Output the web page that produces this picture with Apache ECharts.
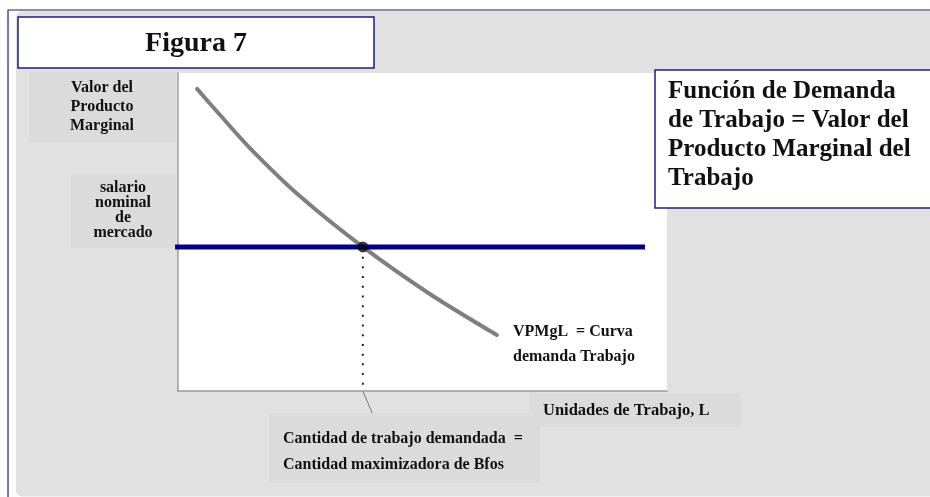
<!DOCTYPE html>
<html>
<head>
<meta charset="utf-8">
<script src="https://cdn.jsdelivr.net/npm/echarts@6/dist/echarts.min.js"></script>
<style>html,body{margin:0;padding:0;background:#fff;}#c{width:930px;height:497px;}</style>
</head>
<body>
<div id="c"></div>
<script>
// Data (units: L = labour units, w = value / wage, arbitrary scale 0-10)
const curveL = [0.39, 0.86, 1.47, 2.49, 3.78, 5.15, 6.52];
const curveW = [9.50, 8.68, 7.64, 6.13, 4.53, 3.05, 1.76];
const wage = 4.53;
const wageLineL = [-0.06, 9.55];
const equilibriumL = 3.78;
const leaderEnd = [3.97, -0.69];

const title = 'Figura 7';
const yLabel = 'Valor del\nProducto\nMarginal';
const wageLabel = 'salario\nnominal\nde\nmercado';
const boxLabel = 'Función de Demanda\nde Trabajo = Valor del\nProducto Marginal del\nTrabajo';
const curveLabel = 'VPMgL  = Curva\ndemanda Trabajo';
const xLabel = 'Unidades de Trabajo, L';
const eqLabel = 'Cantidad de trabajo demandada  =\nCantidad maximizadora de Bfos';

const FF = '"Liberation Serif", "DejaVu Serif", serif';
const GRAY = '#e1e1e1';
const DARK = '#dbdbdb';
const NAVY = '#1c1c80';

const chart = echarts.init(document.getElementById('c'), null, {renderer: 'canvas'});
const curveData = curveL.map((l, i) => [l, curveW[i]]);

function txt(text, x, y, size, align, lh, z) {
  return {
    type: 'text', z: z || 20, silent: true,
    style: {
      text: text, x: x, y: y, fill: '#111',
      font: 'bold ' + size + 'px ' + FF,
      textAlign: align, textVerticalAlign: 'middle', lineHeight: lh
    }
  };
}

chart.setOption({
  animation: false,
  backgroundColor: '#fff',
  grid: {left: 178, top: 73, width: 489, height: 318, show: true, backgroundColor: '#fff', borderWidth: 0},
  xAxis: {
    type: 'value', min: 0, max: 10,
    axisLine: {show: true, lineStyle: {color: '#9c9c9c', width: 1.5}},
    axisTick: {show: false}, axisLabel: {show: false}, splitLine: {show: false}
  },
  yAxis: {
    type: 'value', min: 0, max: 10,
    axisLine: {show: true, lineStyle: {color: '#9c9c9c', width: 1.5}},
    axisTick: {show: false}, axisLabel: {show: false}, splitLine: {show: false}
  },
  series: [
    {
      type: 'line', data: curveData, smooth: 0.3, symbol: 'none', z: 3,
      lineStyle: {color: '#7f7f7f', width: 4, cap: 'round'}
    },
    {
      type: 'line', clip: false, symbol: 'none', z: 4,
      data: [[wageLineL[0], wage], [wageLineL[1], wage]],
      lineStyle: {color: '#000080', width: 5}
    },
    {
      type: 'line', symbol: 'none', z: 2,
      data: [[equilibriumL, wage], [equilibriumL, 0]],
      lineStyle: {color: '#222', width: 2, type: [2, 7.7]}
    },
    {
      type: 'line', clip: false, symbol: 'none', z: 2,
      data: [[equilibriumL, 0], leaderEnd],
      lineStyle: {color: '#777', width: 1}
    },
    {
      type: 'scatter', data: [[equilibriumL, wage]], symbolSize: 11, z: 6,
      itemStyle: {color: '#080818'}
    }
  ],
  graphic: [
    {type: 'rect', z: -20, silent: true, shape: {x: 8, y: 10, width: 940, height: 500},
      style: {fill: '#fff', stroke: NAVY, lineWidth: 1.2}},
    {type: 'rect', z: -19, silent: true, shape: {x: 16, y: 11, width: 925, height: 485.5, r: 6},
      style: {fill: GRAY}},
    {type: 'rect', z: -18, silent: true, shape: {x: 29, y: 71, width: 147, height: 71}, style: {fill: DARK}},
    {type: 'rect', z: -18, silent: true, shape: {x: 71, y: 174, width: 105, height: 74}, style: {fill: DARK}},
    {type: 'rect', z: -18, silent: true, shape: {x: 269, y: 413, width: 271, height: 70}, style: {fill: DARK}},
    {type: 'rect', z: -17, silent: true, shape: {x: 530, y: 393, width: 211, height: 34}, style: {fill: DARK}},
    {type: 'rect', z: 10, silent: true, shape: {x: 18, y: 17, width: 356, height: 51},
      style: {fill: '#fff', stroke: NAVY, lineWidth: 1.5}},
    {type: 'rect', z: 10, silent: true, shape: {x: 655, y: 70, width: 290, height: 138},
      style: {fill: '#fff', stroke: NAVY, lineWidth: 1.5}},
    txt(title, 196, 44, 28, 'center', 30),
    txt(yLabel, 102, 107, 16, 'center', 19),
    txt(wageLabel, 123, 210, 16, 'center', 15),
    txt(boxLabel, 668, 135, 25, 'left', 28.7),
    txt(curveLabel, 513, 344, 16, 'left', 25),
    txt(xLabel, 543, 411, 16.5, 'left', 20),
    txt(eqLabel, 283, 452, 16, 'left', 26)
  ]
});
</script>
</body>
</html>
